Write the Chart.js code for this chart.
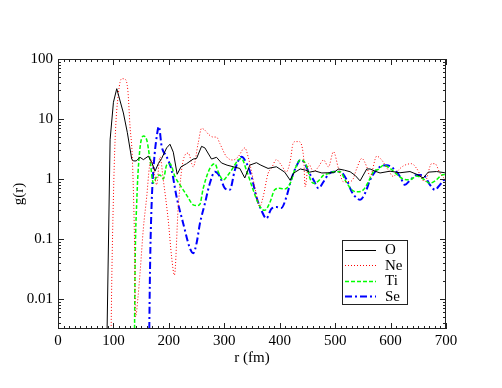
<!DOCTYPE html>
<html>
<head>
<meta charset="utf-8">
<script src="https://cdn.jsdelivr.net/npm/chart.js@4/dist/chart.umd.min.js"></script>
<style>
html, body { margin: 0; padding: 0; background: #fff; }
</style>
</head>
<body>
<canvas id="grChart" width="502" height="388"></canvas>
<script>
// r (fm) and g(r) for each species
const oR = [86, 94, 100, 106, 112, 118, 125, 133, 136, 141, 148, 154, 163, 169, 175, 181, 187, 196, 202, 208, 215, 222, 232, 244, 250, 259, 265, 277, 286, 295, 305, 316, 328, 337, 346, 358, 366, 379, 394, 409, 419, 425, 437, 447, 454, 464, 476, 487, 497, 506, 517, 527, 536, 545, 557, 563, 572, 581, 599, 617, 635, 647, 659, 668, 683, 698, 700];
const oG = [0.0001, 4.5, 19, 32, 20, 12.6, 6, 2.15, 2.0, 2.0, 2.3, 2.1, 2.4, 1.9, 1.35, 1.8, 2.2, 3.3, 3.8, 2.8, 1.2, 1.6, 1.8, 2.15, 2.2, 3.5, 3.3, 2.15, 2.3, 1.85, 1.7, 1.6, 1.5, 1.04, 1.7, 1.87, 1.7, 1.5, 1.6, 1.3, 0.95, 1.25, 1.47, 1.4, 1.3, 1.36, 1.26, 1.27, 1.27, 1.47, 1.4, 1.32, 1.15, 0.93, 1.47, 1.47, 1.35, 1.26, 1.35, 1.27, 1.33, 1.2, 1.04, 1.3, 1.33, 1.27, 1.27];

const neR = [94, 97, 100, 103, 109, 115, 121, 126, 130, 134, 138, 140, 144, 148, 154, 160, 165, 169, 174, 178, 184, 190, 199, 205, 210, 217, 226, 235, 244, 253, 259, 265, 272, 280, 286, 292, 304, 316, 325, 337, 343, 355, 364, 370, 379, 385, 394, 403, 412, 419, 424, 428, 434, 443, 446, 452, 461, 470, 479, 488, 497, 506, 515, 530, 539, 548, 557, 563, 575, 584, 596, 605, 614, 623, 638, 647, 662, 674, 680, 689, 698];
const neG = [0.0001, 0.02, 0.5, 4.5, 27, 47, 46, 30, 7.4, 2.35, 0.1, 0.005, 0.01, 0.027, 0.15, 0.5, 1.6, 2.07, 1.2, 0.8, 2.35, 0.96, 0.2, 0.05, 0.025, 0.35, 2.07, 2.7, 1.6, 4, 7, 6.5, 5.5, 5, 5, 3.9, 2.35, 2.07, 2.35, 3.3, 2.35, 0.74, 0.35, 0.5, 1.24, 1.5, 2.1, 1.7, 1.32, 2, 3.9, 4.2, 4.2, 2.35, 0.74, 1.8, 1.32, 1.6, 2.07, 1.6, 2.85, 1.5, 0.9, 0.93, 1.5, 2.2, 1.6, 1.1, 2.4, 2.07, 1.4, 1.1, 1.4, 1.65, 1.8, 1.5, 0.9, 1.8, 1.8, 1.26, 1.0];

const tiR = [137, 139, 142, 147, 154, 160, 166, 172, 178, 184, 190, 196, 202, 211, 220, 232, 244, 250, 256, 262, 274, 283, 289, 298, 304, 313, 325, 331, 340, 352, 364, 373, 382, 391, 400, 409, 419, 428, 437, 443, 449, 455, 461, 470, 479, 488, 497, 509, 518, 530, 539, 551, 560, 569, 578, 587, 599, 611, 623, 635, 647, 659, 671, 683, 692, 700];
const tiG = [0.0001, 0.03, 0.4, 2.7, 5.2, 4.5, 2.1, 0.86, 1.1, 1.16, 1.0, 1.7, 1.8, 1.1, 0.8, 0.54, 0.37, 0.36, 0.38, 0.7, 1.5, 1.8, 1.32, 0.96, 1.08, 1.4, 2.07, 2.2, 1.4, 0.66, 0.35, 0.3, 0.4, 0.66, 0.7, 0.68, 0.85, 1.5, 2.07, 2.0, 1.6, 1.0, 0.85, 0.93, 1.16, 1.23, 1.32, 1.32, 0.96, 0.66, 0.61, 0.66, 0.9, 1.32, 1.45, 1.7, 1.5, 1.2, 1.0, 0.97, 1.12, 1.0, 0.85, 0.97, 1.16, 1.2];

const seR = [163, 166, 169, 173, 178, 182, 187, 196, 205, 214, 226, 238, 244, 250, 256, 265, 274, 283, 292, 301, 310, 319, 331, 340, 349, 358, 367, 376, 385, 394, 403, 412, 421, 431, 437, 443, 452, 461, 470, 479, 488, 497, 509, 521, 530, 539, 545, 554, 563, 572, 581, 593, 605, 617, 626, 635, 647, 659, 671, 680, 689, 698];
const seG = [0.0001, 0.03, 0.4, 1.85, 5, 7.5, 3.5, 2.35, 1.4, 0.5, 0.18, 0.07, 0.058, 0.085, 0.18, 0.39, 0.85, 1.32, 1.1, 0.7, 0.66, 1.4, 2.35, 1.85, 1.1, 0.5, 0.3, 0.22, 0.32, 0.34, 0.33, 0.5, 1.0, 1.7, 2.07, 1.95, 1.32, 0.96, 0.7, 0.9, 1.2, 1.32, 1.32, 0.96, 0.61, 0.48, 0.45, 0.58, 0.96, 1.32, 1.6, 1.7, 1.5, 1.1, 0.8, 0.95, 1.16, 1.16, 0.8, 0.66, 0.8, 1.0];

const yTicks = [0.01, 0.1, 1, 10, 100];
const yTickLabels = ['0.01', '0.1', '1', '10', '100'];

const pts = (rs, gs) => rs.map((r, i) => ({ x: r, y: gs[i] }));

Chart.defaults.font.family = '"Liberation Serif", "DejaVu Serif", serif';
Chart.defaults.font.size = 15;
Chart.defaults.color = '#000';

// xmgrace style frame with inward ticks on all four sides
const frameTicks = {
    id: 'frameTicks',
    afterDatasetsDraw(chart) {
        const { ctx, chartArea: a, scales: { x, y } } = chart;
        ctx.save();
        ctx.strokeStyle = '#222';
        ctx.lineWidth = 1;
        ctx.strokeRect(a.left + 0.5, a.top + 0.5, a.right - a.left - 1, a.bottom - a.top - 1);
        ctx.beginPath();
        for (let v = 0; v <= 700; v += 10) {
            const px = Math.round(x.getPixelForValue(v)) + 0.5;
            const len = v % 100 === 0 ? 6 : 3;
            ctx.moveTo(px, a.bottom); ctx.lineTo(px, a.bottom - len);
            ctx.moveTo(px, a.top); ctx.lineTo(px, a.top + len);
        }
        for (let d = -3; d <= 2; d++) {
            for (let m = 1; m <= 9; m++) {
                const v = m * Math.pow(10, d);
                if (v < y.min || v > y.max * 1.0001) continue;
                const py = Math.round(y.getPixelForValue(v)) + 0.5;
                const len = m === 1 ? 6 : 3;
                ctx.moveTo(a.left, py); ctx.lineTo(a.left + len, py);
                ctx.moveTo(a.right, py); ctx.lineTo(a.right - len, py);
            }
        }
        ctx.stroke();

        // legend box
        const bx = 342, by = 240, bw = 65, bh = 64;
        ctx.fillStyle = '#fff';
        ctx.fillRect(bx, by, bw, bh);
        ctx.strokeStyle = '#222';
        ctx.strokeRect(bx + 0.5, by + 0.5, bw, bh);
        ctx.font = '15px "Liberation Serif", "DejaVu Serif", serif';
        ctx.textBaseline = 'middle';
        chart.data.datasets.forEach((ds, i) => {
            const ly = by + 9.5 + i * 15.5;
            ctx.beginPath();
            ctx.strokeStyle = ds.borderColor;
            ctx.lineWidth = ds.borderWidth;
            ctx.setLineDash(ds.borderDash || []);
            ctx.moveTo(bx + 3, Math.round(ly) + 0.5);
            ctx.lineTo(bx + 34, Math.round(ly) + 0.5);
            ctx.stroke();
            ctx.setLineDash([]);
            ctx.fillStyle = '#000';
            ctx.fillText(ds.label, bx + 43, ly + 1);
        });
        ctx.restore();
    }
};

new Chart(document.getElementById('grChart'), {
    type: 'line',
    data: {
        datasets: [
            { label: 'O', data: pts(oR, oG), borderColor: '#000000', borderWidth: 1, tension: 0 },
            { label: 'Ne', data: pts(neR, neG), borderColor: '#ff0000', borderWidth: 1, borderDash: [1, 2], cubicInterpolationMode: 'monotone' },
            { label: 'Ti', data: pts(tiR, tiG), borderColor: '#00ff00', borderWidth: 1.5, borderDash: [4, 2], cubicInterpolationMode: 'monotone' },
            { label: 'Se', data: pts(seR, seG), borderColor: '#0000ff', borderWidth: 2, borderDash: [7, 3, 2, 3], cubicInterpolationMode: 'monotone' }
        ]
    },
    options: {
        responsive: false,
        animation: false,
        events: [],
        layout: { padding: { left: 0, top: 59, right: 56, bottom: 0 } },
        elements: { point: { radius: 0 } },
        plugins: {
            legend: { display: false },
            tooltip: { enabled: false }
        },
        scales: {
            x: {
                type: 'linear',
                min: 0,
                max: 700,
                grid: { display: false, drawTicks: false },
                border: { display: false },
                ticks: { stepSize: 100, padding: 3, maxRotation: 0 },
                title: { display: true, text: 'r (fm)', padding: { top: 0, bottom: 21 } },
                afterFit: s => { s.height = 59; }
            },
            y: {
                type: 'logarithmic',
                min: 0.00316,
                max: 100,
                grid: { display: false, drawTicks: false },
                border: { display: false },
                afterBuildTicks: axis => { axis.ticks = yTicks.map(v => ({ value: v })); },
                ticks: {
                    padding: 5,
                    callback: v => yTickLabels[yTicks.indexOf(v)]
                },
                title: { display: true, text: 'g(r)', padding: { top: 10, bottom: 0 } },
                afterFit: s => { s.width = 58; }
            }
        }
    },
    plugins: [frameTicks]
});
</script>
</body>
</html>
